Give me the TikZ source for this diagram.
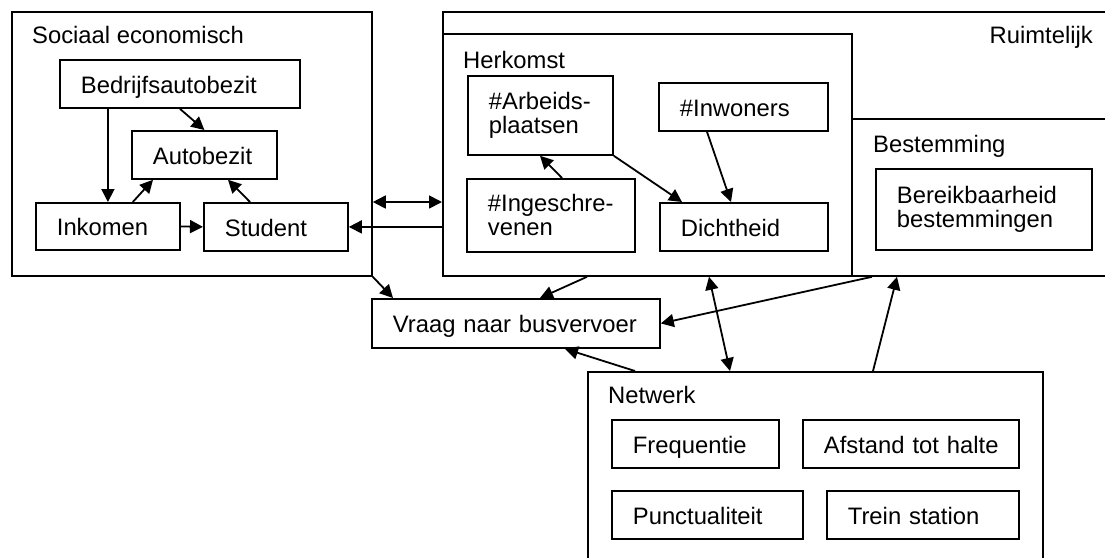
\documentclass[tikz,border=0pt]{standalone}
\usepackage{fontspec}
\setmainfont{Liberation Sans}
\usetikzlibrary{arrows.meta}
\newcommand\pd{\hspace*{21pt}}
\begin{document}
\begin{tikzpicture}[x=1pt,y=-1pt,
  every node/.style={font=\fontsize{23.8}{24}\selectfont, inner sep=0pt},
  frame/.style={draw, line width=1.8pt, anchor=north west},
  mbox/.style 2 args={draw, line width=1.8pt, anchor=north west, minimum width=#1pt, minimum height=#2pt, text width=#1pt, align=left},
  box/.style 2 args={mbox={#1}{#2}, text height=21.5pt, text depth=2.5pt},
  lbl/.style={anchor=base west},
  conn/.style={line width=1.8pt, -{Triangle[length=13pt,width=13pt]}},
  biconn/.style={line width=1.8pt, {Triangle[length=13pt,width=13pt]}-{Triangle[length=13pt,width=13pt]}}]
\useasboundingbox (0,0) rectangle (1105,557);
\fill[white] (0,0) rectangle (1105,557);
\clip (0,0) rectangle (1105,557);

% containers
\node[frame, minimum width=360pt, minimum height=264pt] (se) at (11,11) {};
\node[frame, minimum width=670pt, minimum height=264pt] (ruim) at (442,11) {};
\node[frame, minimum width=409pt, minimum height=242pt] (herk) at (442,33) {};
\node[frame, minimum width=261pt, minimum height=157pt] (best) at (851,118) {};
\node[frame, minimum width=455pt, minimum height=200pt] (net) at (587,371) {};

% labels
\node[lbl] (selbl) at (32,43) {Sociaal economisch};
\node[anchor=base east] (ruimlbl) at (1093,43) {Ruimtelijk};
\node[lbl] (herklbl) at (463,68) {Herkomst};
\node[lbl] (bestlbl) at (873,152) {Bestemming};
\node[lbl] (netlbl) at (608,403) {Netwerk};

% boxes
\node[box={240}{48}] (bed) at (59,59) {\pd Bedrijfsautobezit};
\node[box={145}{48}] (auto) at (131,130) {\pd Autobezit};
\node[box={144}{47}] (ink) at (35,202) {\pd Inkomen};
\node[box={144}{48}] (stu) at (203,202) {\pd Student};
\node[mbox={145}{79}] (arb) at (467,75) {\pd\#Arbeids-\\\pd plaatsen};
\node[mbox={168}{73}] (ing) at (466,178) {\pd\#Ingeschre-\\\pd venen};
\node[box={169}{48}] (inw) at (658,82) {\pd\#Inwoners};
\node[box={168}{48}] (dicht) at (659,202) {\pd Dichtheid};
\node[mbox={216}{81}] (ber) at (875,168) {\pd Bereikbaarheid\\\pd bestemmingen};
\node[box={288}{49}] (vraag) at (371,298) {\pd Vraag naar busvervoer};
\node[box={167}{48}] (freq) at (611,419) {\pd Frequentie};
\node[box={216}{48}] (afst) at (802,419) {\pd Afstand tot halte};
\node[box={191}{48}] (punc) at (611,490) {\pd Punctualiteit};
\node[box={192}{48}] (trein) at (826,490) {\pd Trein station};

% connectors
\draw[conn] (bed.south -| ink.north) -- (ink.north);
\draw[conn] (bed.south) -- (auto.north);
\draw[conn] ([xshift=-48pt]ink.north east) -- ([xshift=22pt]auto.south west);
\draw[conn] ([xshift=47pt]stu.north west) -- ([xshift=97pt]auto.south west);
\draw[conn] (ink.east) -- (stu.west);
\draw[biconn] (se.east |- dicht.north) -- (ruim.west |- dicht.north);
\draw[conn] (ruim.west |- stu.east) -- (stu.east);
\draw[conn] (se.south east) -- ([xshift=22pt]vraag.north west);
\draw[conn] ([xshift=145pt]ruim.south west) -- ([xshift=169pt]vraag.north west);
\draw[conn] ([xshift=21pt]best.south west) -- (vraag.east);
\draw[biconn] ([xshift=267pt]ruim.south west) -- ([xshift=143pt]net.north west);
\draw[conn] ([xshift=48pt]net.north west) -- ([xshift=194pt]vraag.south west);
\draw[conn] ([xshift=286pt]net.north west) -- ([xshift=46pt]best.south west);
\draw[conn] ([xshift=96pt]ing.north west) -- ([xshift=73pt]arb.south west);
\draw[conn] (arb.south east) -- ([xshift=23pt]dicht.north west);
\draw[conn] ([xshift=49pt]inw.south west) -- ([xshift=72pt]dicht.north west);
\end{tikzpicture}
\end{document}
